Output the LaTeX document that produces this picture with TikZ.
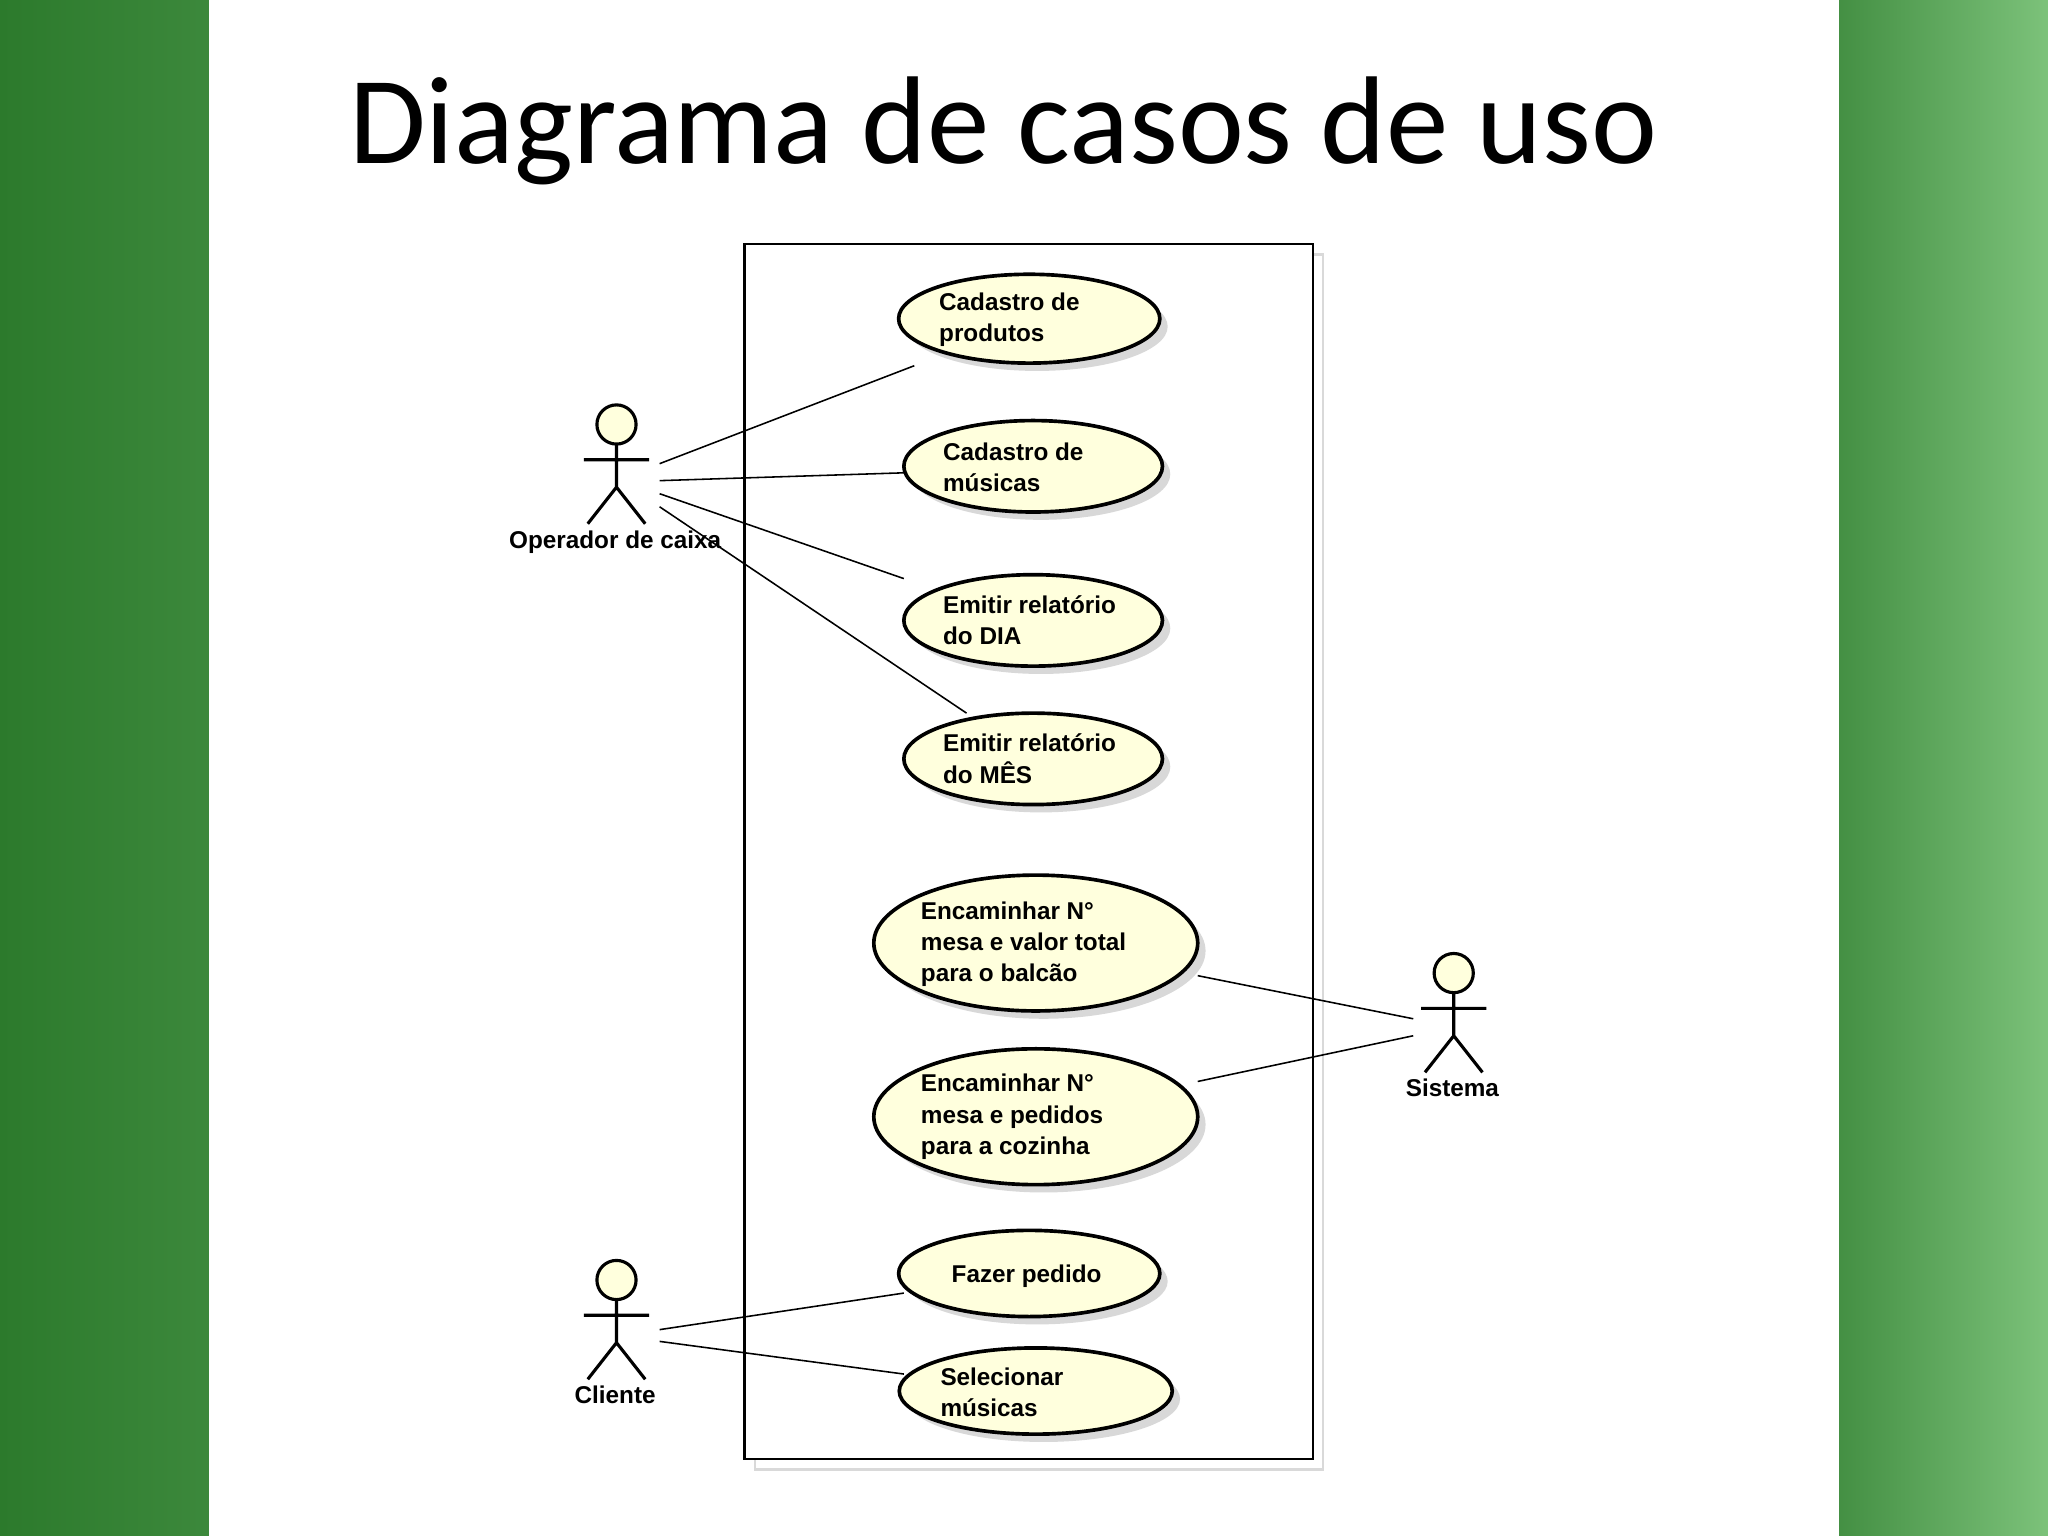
\documentclass[tikz,border=0pt]{standalone}
\usepackage{fontspec}
\setmainfont{Liberation Sans}
\newfontfamily\titlefont{Carlito}
\usetikzlibrary{shapes.geometric,shadows}
\definecolor{uc}{HTML}{FFFFDD}
\definecolor{gdark}{HTML}{2C7A2C}
\definecolor{glight}{HTML}{7CC27A}
\tikzset{
 uc/.style={ellipse,draw,line width=1.4pt,fill=uc,minimum width=#1*0.5pt,inner sep=0pt,
   drop shadow={shadow xshift=3pt,shadow yshift=-3pt,fill=black!30}},
 uctext/.style={font=\bfseries\fontsize{9.3}{12}\selectfont,align=left,anchor=west},
 assoc/.style={draw,line width=0.6pt},
 lbl/.style={font=\bfseries\fontsize{9.3}{12}\selectfont}
}
\newcommand{\actor}[3]{% name, x, y of head center
 \draw[fill=uc,line width=1.2pt] (#2,#3) circle (7.5pt);
 \draw[line width=1.2pt] (#2,#3+15) -- (#2,#3+48) (#2-25,#3+27) -- (#2+25,#3+27)
   (#2-22,#3+76) -- (#2,#3+48) -- (#2+22,#3+76);
 \coordinate (#1) at (#2,#3);}
\begin{document}
\begin{tikzpicture}[x=0.5pt,y=-0.5pt]
\useasboundingbox (0,0) rectangle (1568,1176);
\fill[white] (0,0) rectangle (1568,1176);
\shade[left color=gdark,right color=gdark!80!glight] (0,0) rectangle (160,1176);
\shade[left color=gdark!70!glight,right color=glight] (1408,0) rectangle (1568,1176);
\node[font=\titlefont\fontsize{47.8}{54}\selectfont] (title) at (768,100) {Diagrama de casos de uso};
\draw[black!15,line width=1pt] (578,195) rectangle (1013,1125);
\draw[fill=white,line width=0.8pt] (570,187) rectangle (1005,1117);
% use cases
\node[uc=200,minimum height=34pt] (u1) at (788,244) {};
\node[uctext] at (712,245) {Cadastro de\\produtos};
\node[uc=198,minimum height=35pt] (u2) at (791,357) {};
\node[uctext] at (715,358) {Cadastro de\\músicas};
\node[uc=198,minimum height=35pt] (u3) at (791,475) {};
\node[uctext] at (715,475) {Emitir relatório\\do DIA};
\node[uc=198,minimum height=35pt] (u4) at (791,581) {};
\node[uctext] at (715,581) {Emitir relatório\\do MÊS};
\node[uc=248,minimum height=52pt] (u5) at (793,722) {};
\node[uctext] at (698,723) {Encaminhar N\textdegree\\mesa e valor total\\para o balcão};
\node[uc=248,minimum height=52pt] (u6) at (793,855) {};
\node[uctext] at (698,855) {Encaminhar N\textdegree\\mesa e pedidos\\para a cozinha};
\node[uc=200,minimum height=33pt] (u7) at (788,975) {};
\node[lbl] at (786,977) {Fazer pedido};
\node[uc=209,minimum height=33pt] (u8) at (793,1065) {};
\node[uctext] at (713,1066) {Selecionar\\músicas};
% actors
\actor{op}{472}{325}
\node[lbl] (opl) at (471,415) {Operador de caixa};
\actor{cl}{472}{980}
\node[lbl] (cll) at (471,1068) {Cliente};
\actor{si}{1113}{745}
\node[lbl] (sil) at (1112,833) {Sistema};
% associations
\coordinate (o1) at (505,355); \coordinate (o2) at (505,368);
\coordinate (o3) at (505,378); \coordinate (o4) at (505,388);
\coordinate (e1) at (700,280); \coordinate (e2) at (692,362);
\coordinate (e3) at (692,443); \coordinate (e4) at (740,546);
\draw[assoc] (o1) -- (e1); \draw[assoc] (o2) -- (e2);
\draw[assoc] (o3) -- (e3); \draw[assoc] (o4) -- (e4);
\coordinate (s1) at (1082,780); \coordinate (s2) at (1082,793);
\coordinate (f5) at (917,747); \coordinate (f6) at (917,828);
\draw[assoc] (s1) -- (f5); \draw[assoc] (s2) -- (f6);
\coordinate (c1) at (505,1018); \coordinate (c2) at (505,1027);
\coordinate (g7) at (692,990); \coordinate (g8) at (692,1052);
\draw[assoc] (c1) -- (g7); \draw[assoc] (c2) -- (g8);
\end{tikzpicture}
\end{document}
